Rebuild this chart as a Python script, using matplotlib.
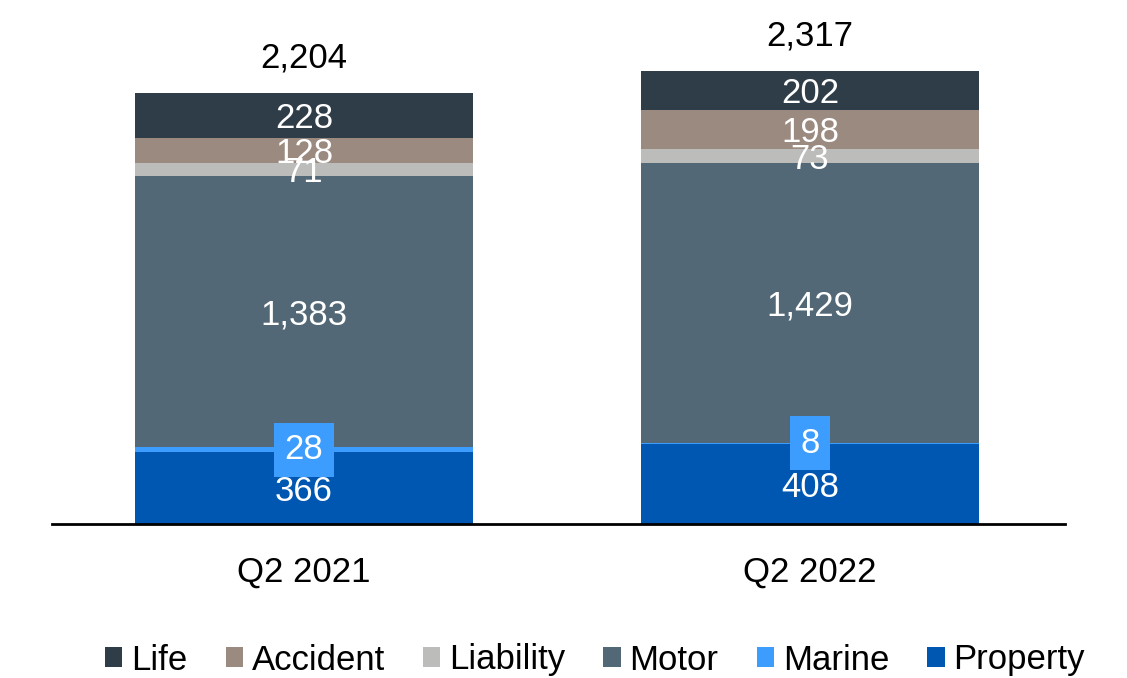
import matplotlib
matplotlib.use("Agg")
import matplotlib.pyplot as plt
from matplotlib.patches import Patch
import numpy as np

plt.rcParams['font.family'] = ['Liberation Sans', 'DejaVu Sans']

categories = ["Q2 2021", "Q2 2022"]
series_names = ["Property", "Marine", "Motor", "Liability", "Accident", "Life"]
property_vals = [366, 408]
marine_vals = [28, 8]
motor_vals = [1383, 1429]
liability_vals = [71, 73]
accident_vals = [128, 198]
life_vals = [228, 202]
totals = [2204, 2317]

colors = {
    "Property": "#0057b2",
    "Marine": "#3d9dff",
    "Motor": "#526876",
    "Liability": "#bcbdbb",
    "Accident": "#9a8a80",
    "Life": "#2f3d48",
}

series = {
    "Property": property_vals,
    "Marine": marine_vals,
    "Motor": motor_vals,
    "Liability": liability_vals,
    "Accident": accident_vals,
    "Life": life_vals,
}

fig = plt.figure(figsize=(11.27, 6.78), dpi=100)
ax = fig.add_axes([52/1127, (678-524)/678, (1065-52)/1127, 524/678])

x = np.arange(len(categories))
width = 0.668
bottom = np.zeros(len(categories))
fs = 25
for name in series_names:
    vals = np.array(series[name], dtype=float)
    ax.bar(x, vals, width, bottom=bottom, color=colors[name], edgecolor='none', zorder=2)
    for i, v in enumerate(vals):
        yc = bottom[i] + v / 2
        if name == "Marine":
            ax.text(x[i], yc, f"{int(v):,}", ha='center', va='center', color='white', fontsize=fs,
                    zorder=5,
                    bbox=dict(boxstyle='square,pad=0.3', facecolor=colors[name], edgecolor='none'))
        else:
            ax.text(x[i], yc, f"{int(v):,}", ha='center', va='center_baseline', color='white',
                    fontsize=fs, zorder=4)
    bottom += vals

for i, t in enumerate(totals):
    ax.text(x[i], bottom[i] + 195, f"{t:,}", ha='center', va='center_baseline', color='black', fontsize=fs)

ax.set_xlim(-0.498, 1.504)
ax.set_ylim(0, 2679)
for s in ['top', 'right', 'left']:
    ax.spines[s].set_visible(False)
ax.spines['bottom'].set_linewidth(2)
ax.spines['bottom'].set_color('black')
ax.set_yticks([])
ax.set_xticks(x)
ax.set_xticklabels(categories, fontsize=fs)
ax.tick_params(axis='x', length=0, pad=23)

legend_order = ["Life", "Accident", "Liability", "Motor", "Marine", "Property"]
handles = [Patch(facecolor=colors[n], edgecolor='none', label=n) for n in legend_order]
fig.legend(handles=handles, loc='center', bbox_to_anchor=(595/1127, 1 - 660/678), ncol=6,
           frameon=False, fontsize=25, handlelength=0.5, handleheight=0.5,
           handletextpad=0.25, columnspacing=1.1, borderaxespad=0)

fig.savefig("out.png", dpi=100)
